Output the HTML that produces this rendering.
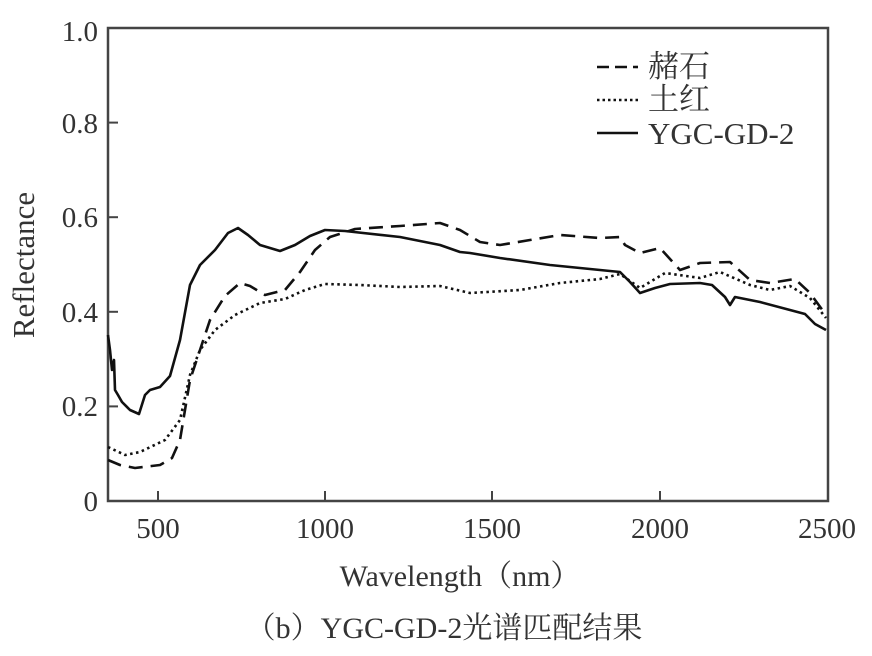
<!DOCTYPE html>
<html><head><meta charset="utf-8"><style>
body{margin:0;background:#fff;}
svg text{font-family:"Liberation Serif","Noto Serif CJK SC",serif;fill:#333;}
</style></head><body>
<svg width="872" height="651" viewBox="0 0 872 651" xmlns="http://www.w3.org/2000/svg">
<rect x="0" y="0" width="872" height="651" fill="#fff"/>
<rect x="108" y="28" width="720" height="473" fill="none" stroke="#444" stroke-width="2.5"/>
<g stroke="#444" stroke-width="2">
<line x1="108" y1="501" x2="118" y2="501"/>
<line x1="108" y1="406.4" x2="118" y2="406.4"/>
<line x1="108" y1="311.8" x2="118" y2="311.8"/>
<line x1="108" y1="217.2" x2="118" y2="217.2"/>
<line x1="108" y1="122.6" x2="118" y2="122.6"/>
<line x1="158" y1="501" x2="158" y2="491"/>
<line x1="325" y1="501" x2="325" y2="491"/>
<line x1="492" y1="501" x2="492" y2="491"/>
<line x1="660" y1="501" x2="660" y2="491"/>
</g>
<g font-size="29" text-anchor="end">
<text x="98" y="511">0</text>
<text x="98" y="416">0.2</text>
<text x="98" y="322">0.4</text>
<text x="98" y="227">0.6</text>
<text x="98" y="133">0.8</text>
<text x="98" y="41">1.0</text>
</g>
<g font-size="29" text-anchor="middle">
<text x="158" y="538">500</text>
<text x="325" y="538">1000</text>
<text x="492" y="538">1500</text>
<text x="660" y="538">2000</text>
<text x="827" y="538">2500</text>
</g>
<text font-size="30" text-anchor="middle" x="460" y="586">Wavelength（nm）</text>
<text font-size="30" text-anchor="middle" x="444" y="638">（b）YGC-GD-2光谱匹配结果</text>
<text font-size="31" text-anchor="middle" transform="translate(34,265) rotate(-90)">Reflectance</text>
<g fill="none" stroke="#111" stroke-width="2.6" stroke-linejoin="round">
<polyline points="108,335 110,350 112,370 114,360 115,390 118,395 122,402 130,410 139,414 145,395 150,390 160,387 170,376 180,340 190,285 200,265 215,250 228,233 238,228 248,235 260,245 280,251 295,245 310,236 325,230 345,231 400,237 440,245 460,252 470,253 500,258 550,265 600,270 620,272 630,282 640,293 655,288 670,284 700,283 712,285 725,297 730,305 735,297 760,302 790,310 805,314 815,324 826,330"/>
<polyline stroke-dasharray="14,8" points="108,460 120,465 135,468 160,465 172,458 180,440 185,410 190,380 200,350 210,320 225,296 240,283 250,286 265,295 285,290 300,272 315,250 330,237 355,229 400,226 440,223 460,230 480,242 500,245 530,240 560,235 600,238 620,237 625,245 640,253 660,248 680,270 700,263 730,262 750,280 770,283 795,279 810,293 826,315"/>
<polyline stroke-dasharray="2.5,3.5" points="108,447 125,455 140,452 165,440 180,420 190,375 200,350 215,330 235,315 260,303 285,299 305,290 325,284 360,285 400,287 440,286 470,293 520,290 560,283 600,279 620,274 640,288 665,273 700,278 720,272 750,285 770,290 790,286 810,298 826,318"/>
<line x1="597" y1="67" x2="638" y2="67" stroke-dasharray="12,6"/>
<line x1="597" y1="100" x2="638" y2="100" stroke-dasharray="2.5,3"/>
<line x1="597" y1="133" x2="638" y2="133"/>
</g>
<g font-size="31">
<text x="648" y="77" font-family="'Noto Serif CJK SC',serif">赭石</text>
<text x="648" y="110" font-family="'Noto Serif CJK SC',serif">土红</text>
<text x="648" y="144">YGC-GD-2</text>
</g>
</svg>
</body></html>
